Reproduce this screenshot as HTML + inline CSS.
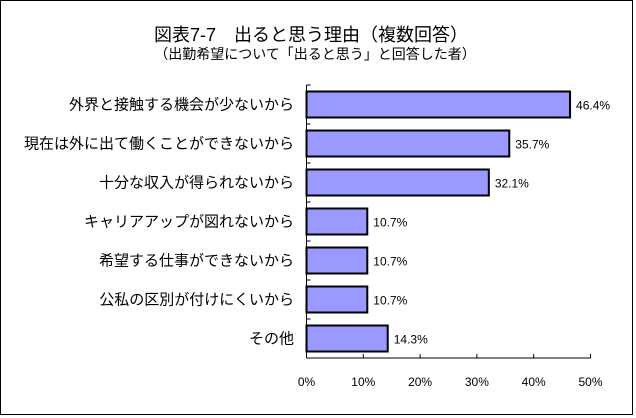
<!DOCTYPE html>
<html><head><meta charset="utf-8"><style>
body{margin:0;background:#fff}
svg{display:block;font-family:"Liberation Sans","Noto Sans CJK JP",sans-serif}
</style></head><body>
<svg id="chart" width="636" height="418">
<rect x="0.5" y="0.5" width="632" height="414" fill="#fff" stroke="#000"/>
<text x="311" y="41" font-size="18" text-anchor="middle">図表7-7　出ると思う理由（複数回答）</text>
<text x="315" y="59" font-size="14" text-anchor="middle">（出勤希望について「出ると思う」と回答した者）</text>
<g id="plot"></g>
</svg>
<script>
const categories=["外界と接触する機会が少ないから","現在は外に出て働くことができないから","十分な収入が得られないから","キャリアアップが図れないから","希望する仕事ができないから","公私の区別が付けにくいから","その他"];
const values=[46.4,35.7,32.1,10.7,10.7,10.7,14.3];
const ticks=[0,10,20,30,40,50];
const NS="http://www.w3.org/2000/svg";
const g=document.getElementById('plot');
const x0=306.5,x1=590.5,yTop=85,yBot=358;
const xs=v=>x0+(v/50)*(x1-x0);
const band=(yBot-yTop)/categories.length;
const yc=i=>yTop+band*(i+0.5);
function mk(t,a){const e=document.createElementNS(NS,t);for(const k in a)e.setAttribute(k,a[k]);g.appendChild(e);return e;}
let e=mk('line',{x1:x0,y1:yTop,x2:x0,y2:yBot,stroke:'#000'});


e=mk('line',{x1:x0,y1:yBot,x2:x1,y2:yBot,stroke:'#000'});


for(let i=0;i<=categories.length;i++){
 e=mk('line',{x1:x0,y1:yTop+band*i,x2:x0+4,y2:yTop+band*i,stroke:'#000'});
 
 
}
ticks.forEach(t=>{
 e=mk('line',{x1:xs(t),y1:yBot,x2:xs(t),y2:yBot-4,stroke:'#000'});
 
 
 e=mk('text',{x:xs(t),y:yBot+28,'font-size':12,'text-anchor':'middle'});
 e.textContent=t+'%';
 
 
});
categories.forEach((c,i)=>{
 const y=yc(i);
 e=mk('rect',{x:x0,y:y-13,width:xs(values[i])-x0,height:26,fill:'#9999ff',stroke:'#000','stroke-width':2});
 
 
 e=mk('text',{x:xs(values[i])+6,y:y+5,'font-size':12});
 e.textContent=values[i].toFixed(1)+'%';
 
 
 e=mk('text',{x:294,y:y+5,'font-size':15,'text-anchor':'end'});
 e.textContent=c;
 
 
});
</script>
</body></html>
